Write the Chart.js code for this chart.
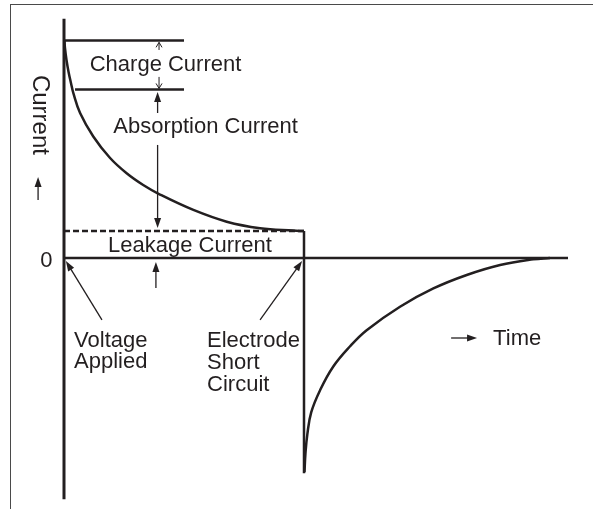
<!DOCTYPE html>
<html><head><meta charset="utf-8">
<script src="https://cdn.jsdelivr.net/npm/chart.js@4/dist/chart.umd.min.js"></script>
<style>
html,body{margin:0;padding:0;background:#fff;}
#wrap{position:relative;width:593px;height:509px;overflow:hidden;}
#frame{position:absolute;left:10px;top:4px;width:640px;height:640px;border-left:1.6px solid #4a4a4a;border-top:1.6px solid #4a4a4a;}
canvas{position:absolute;left:0;top:0;}
</style></head><body>
<div id="wrap"><div id="frame"></div><canvas id="c" width="593" height="509"></canvas></div>
<script>
// ---- Data (time units on x, current units on y) ----
const absorptionTime    = [0.02, 0.04, 0.104, 0.19, 0.29, 0.39, 0.67, 1.22, 1.92, 2.61, 3.3, 4.0, 5.39, 6.78, 8.17, 9.55, 10];
const absorptionCurrent = [10, 9.66, 9.11, 8.56, 8.05, 7.58, 6.67, 5.59, 4.6, 3.9, 3.36, 2.92, 2.21, 1.67, 1.37, 1.26, 1.24];
const dischargeTime     = [10.02, 10.06, 10.14, 10.3, 10.67, 11.22, 11.92, 12.61, 14.0, 15.39, 16.78, 18.17, 19.55, 20.25];
const dischargeCurrent  = [-9.85, -9.0, -8.1, -7.1, -6.08, -4.99, -4.06, -3.32, -2.24, -1.40, -0.78, -0.32, -0.06, 0];
const chargeLevel       = 10;     // peak charge current
const absorptionLevel   = 7.75;   // start of absorption current
const leakageLevel      = 1.24;   // leakage current
const shortCircuitTime  = 10;     // electrode short circuit
const dischargePeak     = -9.9;
const timeEnd           = 21;
const axisTop = 11, axisBottom = -11.1;
const guideEnd = 5, absorptionGuideStart = 0.46;

const INK = '#231f20';
const pts = (xs, ys) => xs.map((x, i) => ({x, y: ys[i]}));
const line = (data, extra) => Object.assign({data, showLine: true, pointRadius: 0, borderColor: INK, borderWidth: 2.5, fill: false}, extra || {});

const datasets = [
  line([{x:0,y:axisTop},{x:0,y:axisBottom}], {borderWidth: 3}),
  line([{x:0,y:0},{x:timeEnd,y:0}]),
  line([{x:0,y:chargeLevel},{x:guideEnd,y:chargeLevel}]),
  line([{x:absorptionGuideStart,y:absorptionLevel},{x:guideEnd,y:absorptionLevel}]),
  line([{x:0,y:leakageLevel},{x:shortCircuitTime,y:leakageLevel}], {borderDash:[6,3]}),
  line([{x:shortCircuitTime,y:leakageLevel},{x:shortCircuitTime,y:dischargePeak}]),
  line(pts(absorptionTime, absorptionCurrent), {tension: 0.4}),
  line(pts(dischargeTime, dischargeCurrent), {tension: 0.4})
];

// ---- Annotations (in data coordinates) ----
const FONT = '"Liberation Sans", Arial, Helvetica, sans-serif';
const labels = [
  {text:'Charge Current', t:4.23, v:8.6, align:'center'},
  {text:'Absorption Current', t:5.9, v:5.75, align:'center'},
  {text:'Leakage Current', t:5.25, v:0.28, align:'center'},
  {text:'0', t:-0.73, v:-0.41, align:'center'},
  {text:'Voltage', t:0.42, v:-4.09, align:'left'},
  {text:'Applied', t:0.42, v:-5.06, align:'left'},
  {text:'Electrode', t:5.96, v:-4.09, align:'left'},
  {text:'Short', t:5.96, v:-5.11, align:'left'},
  {text:'Circuit', t:5.96, v:-6.12, align:'left'},
  {text:'Time', t:17.88, v:-4.0, align:'left'}
];
const arrows = [
  {from:[-1.08,2.67], to:[-1.08,3.73], head:'fill'},
  {from:[16.13,-3.68], to:[17.21,-3.68], head:'fill'},
  {from:[1.58,-2.85], to:[0.08,-0.14], head:'fill'},
  {from:[8.17,-2.85], to:[9.92,-0.14], head:'fill'},
  {from:[3.83,-1.38], to:[3.83,-0.18], head:'fill'},
  {from:[3.9,6.67], to:[3.9,7.64], head:'fill'},
  {from:[3.9,5.2], to:[3.9,1.38], head:'fill'},
  {from:[3.96,9.57], to:[3.96,9.92], head:'open'},
  {from:[3.96,8.33], to:[3.96,7.8], head:'open'}
];

const annot = {
  id: 'annot',
  afterDatasetsDraw(chart) {
    const ctx = chart.ctx, xs = chart.scales.x, ys = chart.scales.y;
    const X = t => xs.getPixelForValue(t), Y = v => ys.getPixelForValue(v);
    ctx.save();
    ctx.fillStyle = INK; ctx.strokeStyle = INK;
    ctx.font = '22px ' + FONT;
    ctx.textBaseline = 'alphabetic';
    labels.forEach(l => { ctx.textAlign = l.align; ctx.fillText(l.text, X(l.t), Y(l.v)); });
    // rotated axis title
    ctx.save();
    ctx.translate(X(-1.3), Y(6.58));
    ctx.rotate(Math.PI / 2);
    ctx.font = '24px ' + FONT;
    ctx.textAlign = 'center';
    ctx.fillText('Current', 0, 0);
    ctx.restore();
    // arrows
    arrows.forEach(a => {
      const x1 = X(a.from[0]), y1 = Y(a.from[1]), x2 = X(a.to[0]), y2 = Y(a.to[1]);
      const ang = Math.atan2(y2 - y1, x2 - x1);
      const open = a.head === 'open';
      const L = open ? 5 : 10, W = open ? 3 : 3.5;
      ctx.lineWidth = open ? 1 : 1.3;
      ctx.beginPath();
      ctx.moveTo(x1, y1);
      ctx.lineTo(open ? x2 : x2 - Math.cos(ang) * L * 0.8, open ? y2 : y2 - Math.sin(ang) * L * 0.8);
      ctx.stroke();
      const bx = x2 - Math.cos(ang) * L, by = y2 - Math.sin(ang) * L;
      const nx = -Math.sin(ang) * W, ny = Math.cos(ang) * W;
      ctx.beginPath();
      ctx.moveTo(bx + nx, by + ny);
      ctx.lineTo(x2, y2);
      ctx.lineTo(bx - nx, by - ny);
      if (open) { ctx.stroke(); } else { ctx.closePath(); ctx.fill(); }
    });
    ctx.restore();
  }
};

new Chart(document.getElementById('c'), {
  type: 'scatter',
  data: { datasets },
  options: {
    responsive: false,
    animation: false,
    layout: { padding: { left: 16, right: 1, top: 8, bottom: 1 } },
    scales: {
      x: { type: 'linear', min: -2, max: 22, display: false },
      y: { type: 'linear', min: -11.5, max: 11.5, display: false }
    },
    plugins: { legend: { display: false }, tooltip: { enabled: false } }
  },
  plugins: [annot]
});
</script>
</body></html>
